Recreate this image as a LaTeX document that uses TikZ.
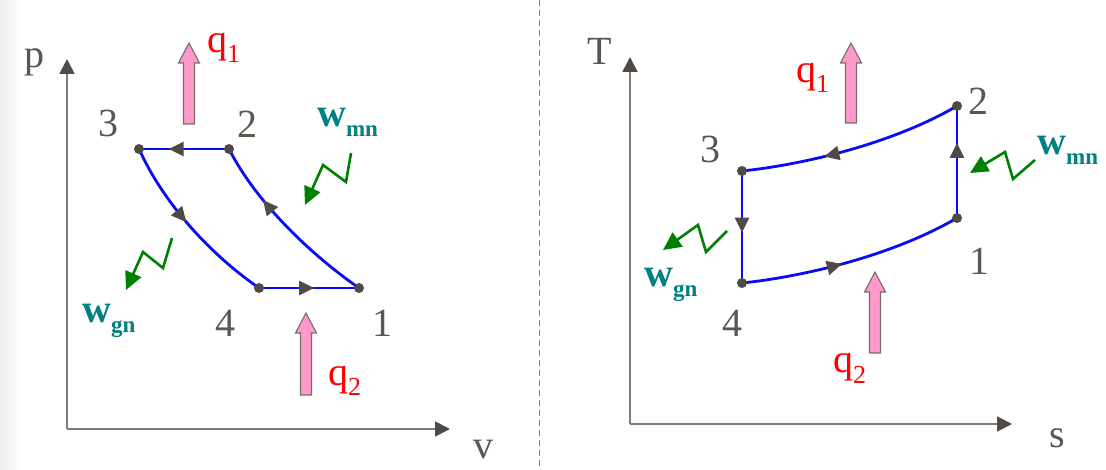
\documentclass[tikz,border=0pt]{standalone}
\usepackage{fontspec}
\setmainfont{Liberation Serif}
\newfontfamily\lserif{Liberation Serif}
\usetikzlibrary{arrows.meta,decorations.markings}
\definecolor{labgray}{RGB}{92,86,80}
\definecolor{axline}{RGB}{130,125,120}
\definecolor{axhead}{RGB}{80,75,70}
\definecolor{dotgray}{RGB}{78,74,70}
\definecolor{cycblue}{RGB}{10,10,250}
\definecolor{wgreen}{RGB}{0,128,0}
\definecolor{wteal}{RGB}{0,128,128}
\definecolor{qred}{RGB}{255,0,0}
\definecolor{qpink}{RGB}{255,153,204}
\definecolor{qedge}{RGB}{115,110,105}
\newcommand\subt[2]{\raisebox{-10pt}{\fontsize{#1}{#1}\selectfont #2}}
\newcommand\heatarrow[3]{%
  \path[heat] (#1-5.5,#3) -- (#1-5.5,#2+20) -- (#1-10.5,#2+20) -- (#1,#2)
    -- (#1+10.5,#2+20) -- (#1+5.5,#2+20) -- (#1+5.5,#3) -- cycle;}
\tikzset{
  axis/.style={draw=axline, line width=1.8pt, -{Triangle[length=15pt,width=15pt,color=axhead]}},
  cyc/.style={draw=cycblue, line width=2.8pt},
  midarrow/.style={postaction={decorate}, decoration={markings,
      mark=at position #1 with {\arrow{Triangle[length=15pt,width=14pt,color=dotgray]}}}},
  dot/.style={circle, fill=dotgray, inner sep=0pt, minimum size=10pt},
  lbl/.style={text=labgray, font=\lserif\fontsize{40}{40}\selectfont, inner sep=0pt, anchor=base},
  qlbl/.style={text=qred, font=\lserif\fontsize{40}{40}\selectfont, inner sep=0pt, anchor=base west},
  wlbl/.style={text=wteal, font=\lserif\bfseries\fontsize{40}{40}\selectfont, inner sep=0pt, anchor=base west},
  zig/.style={draw=wgreen, line width=2.6pt, line join=miter, -{Triangle[length=18pt,width=17pt]}},
  heat/.style={fill=qpink, draw=qedge, line width=1.1pt, line join=miter},
}
\begin{document}
\begin{tikzpicture}[x=1pt,y=-1pt]
\useasboundingbox (0,0) rectangle (1106,470);
\fill[white] (0,0) rectangle (1106,470);
\shade[left color=black!7, right color=white] (0,0) rectangle (22,470);
\coordinate (sepT) at (539,0);
\coordinate (sepB) at (539,470);
\draw[gray, line width=1pt, dash pattern=on 6pt off 4pt] (sepT) -- (sepB);

% ---------- left: p-v diagram ----------
\coordinate (LO) at (67,429);
\coordinate (LY) at (67,59);
\coordinate (LX) at (450,429);
\draw[axis] (LO) -- (LY);
\draw[axis] (LO) -- (LX);

\coordinate (L1) at (359,288);
\coordinate (L2) at (229,149);
\coordinate (L3) at (139,149);
\coordinate (L4) at (259,288);
\draw[cyc, midarrow=0.68] (L1) .. controls (310,254) and (256,202) .. (L2);
\draw[cyc, midarrow=0.67] (L2) -- (L3);
\draw[cyc, midarrow=0.47] (L3) .. controls (164,204) and (210,254) .. (L4);
\draw[cyc, midarrow=0.55] (L4) -- (L1);
\node[dot] (dL1) at (L1) {};
\node[dot] (dL2) at (L2) {};
\node[dot] (dL3) at (L3) {};
\node[dot] (dL4) at (L4) {};

\coordinate (zA0) at (351,153);
\coordinate (zA1) at (346,182);
\coordinate (zA2) at (323,165);
\coordinate (zA3) at (305,205);
\draw[zig] (zA0) -- (zA1) -- (zA2) -- (zA3);
\coordinate (zB0) at (172,238);
\coordinate (zB1) at (163,268);
\coordinate (zB2) at (143,252);
\coordinate (zB3) at (126,290);
\draw[zig] (zB0) -- (zB1) -- (zB2) -- (zB3);

\heatarrow{189}{43}{124}
\heatarrow{306}{313}{395}

\node[lbl] (p) at (34,68) {p};
\node[lbl] (v) at (483,458) {v};
\node[lbl] (n3L) at (108,137) {3};
\node[lbl] (n2L) at (247,138) {2};
\node[lbl] (n4L) at (225,337) {4};
\node[lbl] (n1L) at (382,337) {1};
\node[qlbl] (q1L) at (207,53) {q\subt{26}{1}};
\node[qlbl] (q2L) at (328,385) {q\subt{26}{2}};
\node[wlbl] (wmnL) at (317,127) {w\subt{23}{mn}};
\node[wlbl] (wgnL) at (82,323) {w\subt{23}{gn}};

% ---------- right: T-s diagram ----------
\coordinate (RO) at (630,424);
\coordinate (RY) at (630,57);
\coordinate (RX) at (1012,424);
\draw[axis] (RO) -- (RY);
\draw[axis] (RO) -- (RX);

\coordinate (R1) at (957,218);
\coordinate (R2) at (957,106);
\coordinate (R3) at (742,171);
\coordinate (R4) at (742,283);
\draw[cyc, midarrow=0.67] (R1) -- (R2);
\draw[cyc, midarrow=0.63] (R2) .. controls (890,145) and (800,165) .. (R3);
\draw[cyc, midarrow=0.55] (R3) -- (R4);
\draw[cyc, midarrow=0.45] (R4) .. controls (800,277) and (890,257) .. (R1);
\node[dot] (dR1) at (R1) {};
\node[dot] (dR2) at (R2) {};
\node[dot] (dR3) at (R3) {};
\node[dot] (dR4) at (R4) {};

\coordinate (zC0) at (1035,160);
\coordinate (zC1) at (1013,179);
\coordinate (zC2) at (1005,152);
\coordinate (zC3) at (970,173);
\draw[zig] (zC0) -- (zC1) -- (zC2) -- (zC3);
\coordinate (zD0) at (727,231);
\coordinate (zD1) at (706,252);
\coordinate (zD2) at (698,225);
\coordinate (zD3) at (663,250);
\draw[zig] (zD0) -- (zD1) -- (zD2) -- (zD3);

\heatarrow{851}{43}{123}
\heatarrow{875}{272}{353}

\node[lbl] (T) at (600,65) {T};
\node[lbl] (s) at (1057,447) {s};
\node[lbl] (n3R) at (710,163) {3};
\node[lbl] (n2R) at (978,115) {2};
\node[lbl] (n1R) at (979,275) {1};
\node[lbl] (n4R) at (732,337) {4};
\node[qlbl] (q1R) at (796,83) {q\subt{26}{1}};
\node[qlbl] (q2R) at (833,373) {q\subt{26}{2}};
\node[wlbl] (wmnR) at (1037,155) {w\subt{23}{mn}};
\node[wlbl] (wgnR) at (644,287) {w\subt{23}{gn}};
\end{tikzpicture}
\end{document}
